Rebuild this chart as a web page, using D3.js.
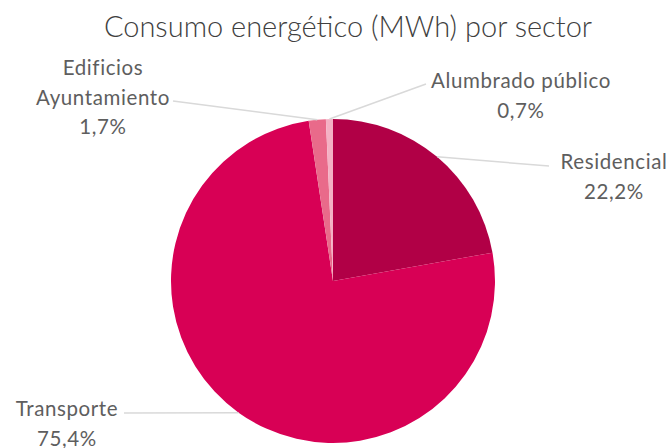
<!DOCTYPE html>
<html>
<head>
<meta charset="utf-8">
<script src="https://cdn.jsdelivr.net/npm/d3@7"></script>
<style>
  body { margin: 0; background: #fff; }
  text { font-family: Lato, "Open Sans", sans-serif; }
</style>
</head>
<body>
<div class="canvas"></div>
<script>
// data
const categories = ["Residencial", "Transporte", "Edificios Ayuntamiento", "Alumbrado público"];
const shares = [22.2, 75.4, 1.7, 0.7];
const labelLines = [["Residencial"], ["Transporte"], ["Edificios", "Ayuntamiento"], ["Alumbrado público"]];
const pctLabels = ["22,2%", "75,4%", "1,7%", "0,7%"];
const colors = ["#B10046", "#D80055", "#E96A8A", "#F4B1C4"];

const dims = { width: 672, height: 448, radius: 162 };
const center = { x: 333, y: 281 };

// where each label block sits (center x, first line y) and where its leader ends
const labelPos = [
  { x: 614, y: 161, lx: 549, ly: 166 },
  { x: 67, y: 408, lx: 124, ly: 413 },
  { x: 103, y: 67, lx: 173, ly: 101 },
  { x: 521, y: 80, lx: 426, ly: 84 }
];

const svg = d3
  .select(".canvas")
  .append("svg")
  .attr("width", dims.width)
  .attr("height", dims.height);

svg
  .append("text")
  .attr("x", 348)
  .attr("y", 25)
  .attr("text-anchor", "middle")
  .attr("dominant-baseline", "central")
  .attr("font-size", 29)
  .attr("font-weight", 300)
  .attr("fill", "#404040")
  .text("Consumo energético (MWh) por sector");

const graph = svg
  .append("g")
  .attr("transform", `translate(${center.x},${center.y})`);

const pie = d3.pie().sort(null).value((d) => d.value);
const data = categories.map((c, i) => ({ name: c, value: shares[i], idx: i }));
const arcs = pie(data);

const arcPath = d3.arc().innerRadius(0).outerRadius(dims.radius);
const edgeArc = d3.arc().innerRadius(dims.radius).outerRadius(dims.radius);

graph
  .selectAll("path")
  .data(arcs)
  .enter()
  .append("path")
  .attr("d", arcPath)
  .attr("fill", (d) => colors[d.data.idx]);

// leader lines
svg
  .selectAll("line.leader")
  .data(arcs)
  .enter()
  .append("line")
  .attr("class", "leader")
  .attr("x1", (d) => center.x + edgeArc.centroid(d)[0])
  .attr("y1", (d) => center.y + edgeArc.centroid(d)[1])
  .attr("x2", (d) => labelPos[d.data.idx].lx)
  .attr("y2", (d) => labelPos[d.data.idx].ly)
  .attr("stroke", "#D9D9D9")
  .attr("stroke-width", 1.5);

// labels
const lineH = 29.5;
arcs.forEach((d) => {
  const i = d.data.idx;
  const p = labelPos[i];
  const lines = labelLines[i].concat([pctLabels[i]]);
  const t = svg
    .append("text")
    .attr("text-anchor", "middle")
    .attr("font-size", 20.5)
    .attr("font-weight", 400)
    .attr("letter-spacing", 0.6)
    .attr("fill", "#5e5e5e");
  lines.forEach((s, k) => {
    t.append("tspan")
      .attr("x", p.x)
      .attr("y", p.y + k * lineH)
      .attr("dominant-baseline", "central")
      .text(s);
  });
});
</script>
</body>
</html>
